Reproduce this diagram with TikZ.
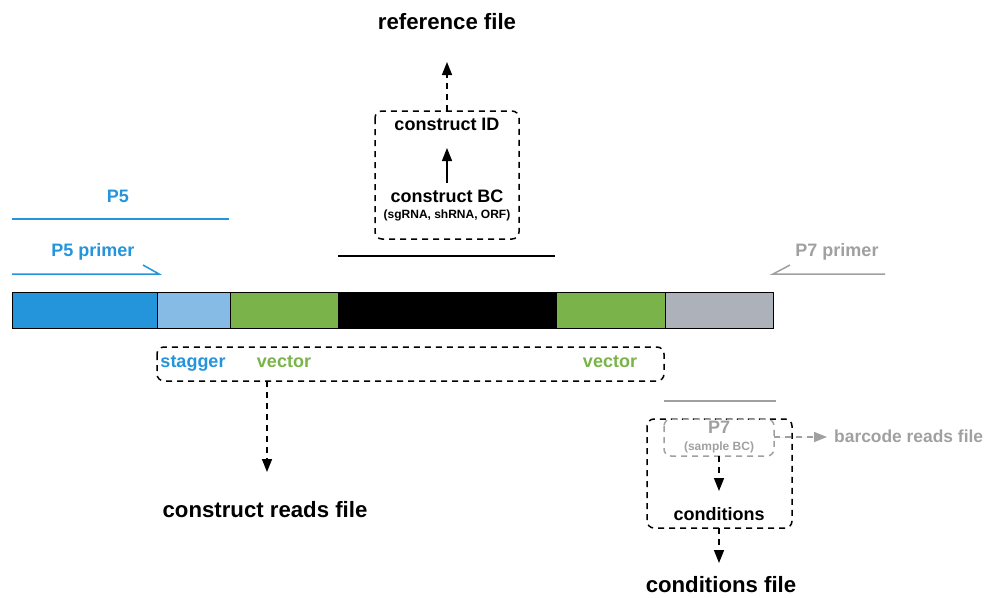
\documentclass[tikz,border=0pt]{standalone}
\usepackage{fontspec}
\setmainfont{Liberation Sans}
\usetikzlibrary{arrows.meta}
\definecolor{cblue}{HTML}{2494DB}
\definecolor{clblue}{HTML}{85BBE5}
\definecolor{cgreen}{HTML}{79B34A}
\definecolor{cgray}{HTML}{ADB2BA}
\definecolor{tgray}{HTML}{A0A0A0}
\tikzset{
  seg/.style={draw=black, line width=1pt},
  dbox/.style={draw, dash pattern=on 6pt off 5pt, rounded corners=7pt, line width=1.5pt},
  arr/.style={-{Triangle[length=13pt,width=10pt]}, line width=1.5pt},
  darr/.style={arr, dash pattern=on 6pt off 5pt},
  lbl/.style={font=\bfseries\fontsize{18}{20}\selectfont, inner sep=0pt, anchor=base},
  big/.style={font=\bfseries\fontsize{22.2}{24}\selectfont, inner sep=0pt, anchor=base},
  sml/.style={font=\bfseries\fontsize{12}{14}\selectfont, inner sep=0pt, anchor=base},
}
\begin{document}
\begin{tikzpicture}[x=1pt,y=-1pt]
\useasboundingbox (0,0) rectangle (987,597);
% bar
\fill[cblue] (12,292) rectangle (157,328);
\fill[clblue] (157,292) rectangle (230,328);
\fill[cgreen] (230,292) rectangle (338,328);
\fill[black] (338,292) rectangle (556,328);
\fill[cgreen] (556,292) rectangle (665,328);
\fill[cgray] (665,292) rectangle (773,328);
\draw[seg] (12,292) rectangle (773,328);
\foreach \x in {157,230,338,556,665} \draw[seg] (\x,292) -- (\x,328);
% primers
\draw[cblue, line width=1.5pt] (12,219) -- (229,219);
\node[lbl, text=cblue] (p5) at (118,202) {P5};
\draw[cblue, line width=1.5pt] (12,274) -- (159,274) -- (143,265);
\node[lbl, text=cblue] (p5p) at (93,256) {P5 primer};
\draw[tgray, line width=1.5pt] (885,274) -- (773,274) -- (790,265);
\node[lbl, text=tgray] (p7p) at (837,256) {P7 primer};
\draw[black, line width=1.5pt] (338,256) -- (555,256);
\draw[tgray, line width=1.5pt] (664,401) -- (776,401);
% construct box
\draw[dbox] (375,111) rectangle (519,239);
\coordinate (cbtop) at (447,111);
\node[lbl] (cid) at (447,130) {construct ID};
\node[lbl] (cbc) at (447,202) {construct BC};
\node[sml] (cbcs) at (447,218) {(sgRNA, shRNA, ORF)};
\draw[arr] (447,183) -- (447,148);
\node[big] (ref) at (447,29) {reference file};
\draw[darr] (cbtop) -- (447,62);
% stagger box
\draw[dbox] (157,347) rectangle (664,381);
\node[lbl, text=cblue] (stag) at (193,367) {stagger};
\node[lbl, text=cgreen] (v1) at (284,367) {vector};
\node[lbl, text=cgreen] (v2) at (610,367) {vector};
\coordinate (sbot) at (267,381);
\node[big] (crf) at (265,517) {construct reads file};
\draw[darr] (sbot) -- (267,472);
% conditions
\draw[dbox] (647,419) rectangle (792,528);
\draw[dbox, draw=tgray] (664,419) rectangle (774,456);
\node[lbl, text=tgray] (p7) at (719,433) {P7};
\node[sml, text=tgray] (sbc) at (719,450) {(sample BC)};
\node[lbl] (cond) at (719,520) {conditions};
\draw[darr] (719,456) -- (719,491);
\draw[darr] (719,528) -- (719,563);
\node[big] (cf) at (721,592) {conditions file};
\node[lbl, text=tgray, anchor=base west, font=\bfseries\fontsize{17.4}{20}\selectfont] (brf) at (834,442) {barcode reads file};
\draw[darr, draw=tgray, fill=tgray] (774,437) -- (827,437);
\end{tikzpicture}
\end{document}
